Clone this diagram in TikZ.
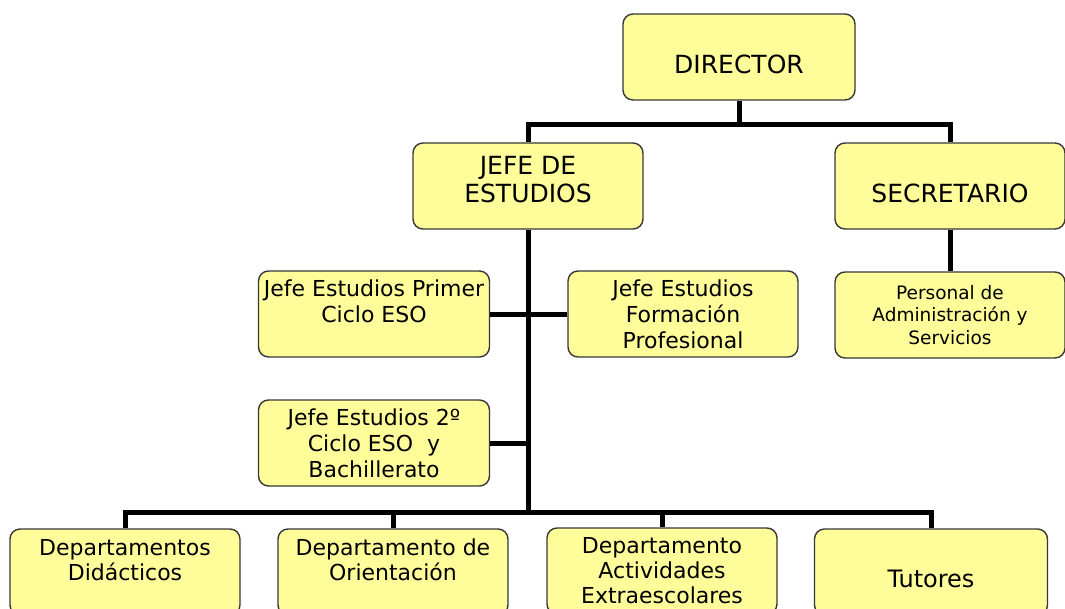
\documentclass[tikz,border=0pt]{standalone}
\usepackage{fontspec}
\setmainfont{DejaVu Sans}
\definecolor{boxfill}{RGB}{255,253,153}
\definecolor{boxline}{RGB}{55,55,55}
\tikzset{
  unit/.style={draw=boxline, line width=1.4pt, fill=boxfill, rounded corners=10pt,
    minimum width=230pt, minimum height=86pt, inner sep=0pt, align=center, text=black},
  big/.style={font=\fontsize{25}{28}\selectfont},
  mid/.style={font=\fontsize{22}{26}\selectfont},
  dept/.style={font=\fontsize{22}{25}\selectfont},
  small/.style={font=\fontsize{18.5}{22.5}\selectfont},
  low/.style={text height=#1, text depth=0pt},
  low/.default=32pt,
  link/.style={line width=5pt},
}
\begin{document}
\begin{tikzpicture}[x=1pt,y=-1pt]
  \useasboundingbox (0,0) rectangle (1065,608);
  \clip (0,0) rectangle (1065,608);

  % top level
  \node[unit,big,low,minimum width=232pt] (director) at (739,57) {DIRECTOR};
  \node[unit,big] (jefe) at (528,186) {JEFE DE\\ESTUDIOS\\[-14pt]\mbox{}};
  \node[unit,big,low] (secretario) at (950,186) {SECRETARIO};
  \node[unit,small] (personal) at (950,315) {Personal de\\Administración y\\Servicios};

  % jefes de estudios
  \node[unit,mid,minimum width=231pt] (primer) at (374,314) {Jefe Estudios Primer\\Ciclo ESO\\\mbox{}};
  \node[unit,mid] (formacion) at (683,314) {Jefe Estudios\\Formación\\Profesional};
  \node[unit,mid,minimum width=231pt] (segundo) at (374,443) {Jefe Estudios 2º\\Ciclo ESO~ y\\Bachillerato};

  % departamentos
  \node[unit,dept] (didacticos) at (125,572) {Departamentos\\Didácticos\\\mbox{}};
  \node[unit,dept] (orientacion) at (393,572) {Departamento de\\Orientación\\\mbox{}};
  \node[unit,dept] (actividades) at (662,571) {Departamento\\Actividades\\Extraescolares};
  \node[unit,font=\fontsize{24}{28}\selectfont,low=31.5pt,minimum width=233pt] (tutores) at (931,572) {Tutores};

  \coordinate (topbar) at (739,124);
  \coordinate (spine) at (528,512);

  \draw[link] (director.south) -- (topbar);
  \draw[link] (jefe.north) |- (topbar) -| (secretario.north);
  \draw[link] (secretario.south) -- (personal.north);
  \draw[link] (jefe.south) -- (spine);
  \draw[link] (primer.east) -- (formacion.west);
  \draw[link] (segundo.east) -- (segundo.east -| spine);
  \draw[link] (didacticos.north) |- (spine) -| (tutores.north);
  \draw[link] (orientacion.north) -- (orientacion.north |- spine);
  \draw[link] (actividades.north) -- (actividades.north |- spine);
\end{tikzpicture}
\end{document}
